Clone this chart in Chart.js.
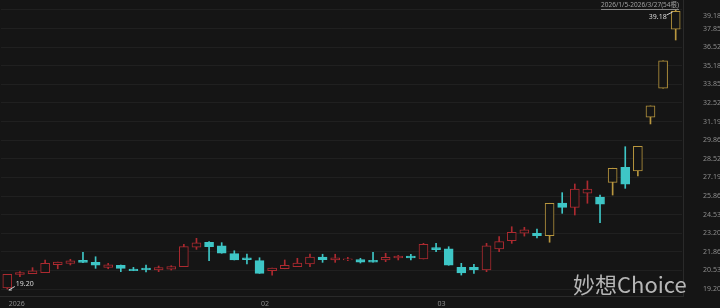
<!DOCTYPE html>
<html>
<head>
<meta charset="utf-8">
<script src="https://cdn.jsdelivr.net/npm/chart.js@4.4.1/dist/chart.umd.min.js"></script>
<style>
  html, body { margin: 0; padding: 0; background: #151515; }
  #wrap { width: 720px; height: 308px; position: relative; }
</style>
</head>
<body>
<div id="wrap"><canvas id="klineCanvas"></canvas></div>
<script>
// 日K 2026/1/5 - 2026/3/27
const dates = [
  '1/5','1/6','1/7','1/8','1/9','1/12','1/13','1/14','1/15','1/16',
  '1/19','1/20','1/21','1/22','1/23','1/26','1/27','1/28','1/29','1/30',
  '2/2','2/3','2/4','2/5','2/6','2/9','2/10','2/11','2/12','2/13',
  '2/24','2/25','2/26','2/27',
  '3/2','3/3','3/4','3/5','3/6','3/9','3/10','3/11','3/12','3/13',
  '3/16','3/17','3/18','3/19','3/20','3/23','3/24','3/25','3/26','3/27'
];
const openPx = [
  19.27, 20.25, 20.30, 20.37, 20.94, 21.04, 21.26, 21.11, 20.75, 20.90,
  20.63, 20.70, 20.56, 20.63, 20.80, 22.19, 22.55, 22.30, 21.73, 21.44,
  21.23, 20.51, 20.65, 20.80, 20.99, 21.49, 21.28, 21.28, 21.30, 21.26,
  21.28, 21.42, 21.56, 21.35, 22.16, 22.07, 20.75, 20.75, 20.56, 22.08,
  22.66, 23.19, 23.19, 23.02, 25.36, 25.05, 26.06, 25.79, 26.84, 27.92,
  27.65, 31.50, 33.58, 37.80
];
const highPx = [
  20.25, 20.44, 20.73, 21.28, 21.13, 21.33, 21.83, 21.51, 21.04, 20.92,
  20.75, 20.92, 20.85, 20.87, 22.40, 22.83, 22.59, 22.52, 21.94, 21.71,
  21.44, 20.70, 21.28, 21.40, 21.71, 21.69, 21.69, 21.47, 21.40, 21.83,
  21.76, 21.61, 21.69, 22.47, 22.47, 22.23, 21.04, 20.97, 22.47, 22.95,
  23.66, 23.62, 23.50, 25.34, 26.10, 26.72, 26.94, 25.93, 27.85, 29.39,
  29.42, 32.31, 35.54, 39.18
];
const lowPx = [
  19.20, 20.08, 20.30, 20.37, 20.65, 20.92, 21.08, 20.68, 20.65, 20.44,
  20.51, 20.42, 20.44, 20.56, 20.80, 22.04, 21.23, 21.76, 21.28, 20.99,
  20.32, 20.20, 20.65, 20.80, 20.80, 21.11, 21.11, 21.23, 21.06, 21.13,
  21.16, 21.28, 21.28, 21.35, 21.87, 20.90, 20.20, 20.32, 20.44, 21.87,
  22.47, 22.99, 22.85, 22.55, 24.62, 24.50, 25.34, 23.95, 25.93, 26.41,
  27.29, 31.02, 33.58, 37.03
];
const closePx = [
  20.25, 20.37, 20.51, 21.04, 21.13, 21.21, 21.11, 20.90, 20.94, 20.68,
  20.51, 20.58, 20.73, 20.80, 22.23, 22.50, 22.23, 21.76, 21.28, 21.30,
  20.32, 20.70, 20.90, 21.06, 21.49, 21.30, 21.44, 21.37, 21.13, 21.13,
  21.47, 21.56, 21.42, 22.40, 22.01, 20.90, 20.35, 20.56, 22.30, 22.59,
  23.26, 23.43, 23.02, 25.34, 25.05, 26.36, 26.36, 25.27, 27.85, 26.70,
  29.42, 32.31, 35.54, 39.09
];
// 涨停日 (金色)
const limitUp = [43, 48, 50, 51, 52, 53];

const yTickLabels = [
  '19.20', '20.53', '21.86', '23.20', '24.53', '25.86', '27.19', '28.52',
  '29.86', '31.19', '32.52', '33.85', '35.18', '36.52', '37.85', '39.18'
];
const monthTickIdx = [0, 20, 34];
const monthTickText = ['2026', '02', '03'];

const BG = '#151515';
const UP = '#ad2a30';
const DOWN = '#3ec6c6';
const GOLD = '#b8963e';

function candleColor(i) {
  if (limitUp.includes(i)) return GOLD;
  return closePx[i] >= openPx[i] ? UP : DOWN;
}

const lineColors = dates.map((d, i) => candleColor(i));
const bodyFill = dates.map((d, i) => closePx[i] >= openPx[i] ? BG : DOWN);

Chart.defaults.font.family = '"Noto Sans", "Noto Sans CJK SC", sans-serif';

const overlay = {
  id: 'overlay',
  afterDatasetsDraw(chart) {
    const { ctx, chartArea, scales } = chart;
    const x = scales.x, y = scales.y;
    ctx.save();

    // frame lines
    ctx.strokeStyle = 'rgba(255,255,255,0.09)';
    ctx.lineWidth = 1;
    ctx.beginPath();
    ctx.moveTo(Math.round(chartArea.right) + 1.5, 0);
    ctx.lineTo(Math.round(chartArea.right) + 1.5, chartArea.bottom);
    ctx.moveTo(0, Math.round(chartArea.bottom) + 0.5);
    ctx.lineTo(chartArea.right + 2, Math.round(chartArea.bottom) + 0.5);
    ctx.stroke();

    // month labels on the x scale
    ctx.font = '7px "Noto Sans"';
    ctx.fillStyle = '#8c8c8c';
    ctx.textAlign = 'left';
    ctx.textBaseline = 'middle';
    monthTickIdx.forEach(function(idx, k) {
      ctx.fillText(monthTickText[k], x.getPixelForValue(idx) + 1.5, chartArea.bottom + 8);
    });

    // top y label (pushed down inside)
    ctx.fillText(yTickLabels[yTickLabels.length - 1], chartArea.right + 21, 16);

    // max / min markers
    const hiIdx = highPx.indexOf(Math.max(...highPx));
    const loIdx = lowPx.indexOf(Math.min(...lowPx));
    const hx = x.getPixelForValue(hiIdx), hy = y.getPixelForValue(highPx[hiIdx]);
    const lx = x.getPixelForValue(loIdx), ly = y.getPixelForValue(lowPx[loIdx]);
    ctx.strokeStyle = '#cfcfcf';
    ctx.beginPath();
    ctx.moveTo(hx - 9, hy + 5);
    ctx.lineTo(hx - 3, hy + 2);
    ctx.moveTo(lx + 1.5, ly + 1);
    ctx.lineTo(lx + 7.5, ly - 2.5);
    ctx.moveTo(lx + 1.5, ly + 1);
    ctx.lineTo(lx + 4.5, ly + 1);
    ctx.stroke();
    ctx.fillStyle = '#d8d8d8';
    ctx.textAlign = 'right';
    ctx.fillText(highPx[hiIdx].toFixed(2), hx - 9, hy + 7);
    ctx.textAlign = 'left';
    ctx.fillText(lowPx[loIdx].toFixed(2), lx + 8.5, ly - 5);

    // range caption
    const cap = '2026/' + dates[0] + '-2026/' + dates[dates.length - 1] + '(' + dates.length + '根)';
    ctx.font = '6.5px "Noto Sans", "Noto Sans CJK SC"';
    ctx.fillStyle = '#a0a0a0';
    ctx.textAlign = 'right';
    ctx.fillText(cap, 679, 5.5);
    const w = ctx.measureText(cap).width;
    ctx.fillRect(679 - w, 9, w, 0.8);

    // watermark
    ctx.font = '22px "Noto Sans CJK SC", "Noto Sans"';
    ctx.fillStyle = 'rgba(200,200,200,0.9)';
    ctx.textAlign = 'left';
    ctx.textBaseline = 'alphabetic';
    ctx.fillText('妙想Choice', 573, 293);
    ctx.restore();
  }
};

new Chart(document.getElementById('klineCanvas'), {
  type: 'bar',
  data: {
    labels: dates,
    datasets: [
      {
        label: 'wick',
        data: dates.map((d, i) => [lowPx[i], highPx[i]]),
        backgroundColor: lineColors,
        borderWidth: 0,
        barThickness: 1,
        grouped: false,
        order: 2
      },
      {
        label: 'body',
        data: dates.map((d, i) => [Math.min(openPx[i], closePx[i]), Math.max(openPx[i], closePx[i])]),
        backgroundColor: bodyFill,
        borderColor: lineColors,
        borderWidth: 1,
        borderSkipped: false,
        barThickness: 9,
        minBarLength: 1,
        grouped: false,
        order: 1
      }
    ]
  },
  options: {
    responsive: true,
    maintainAspectRatio: false,
    animation: false,
    layout: { padding: { left: 1, top: 3, right: 0, bottom: 0 } },
    plugins: {
      legend: { display: false },
      tooltip: { enabled: false }
    },
    scales: {
      x: {
        offset: true,
        grid: { display: false },
        border: { display: false },
        ticks: { display: false },
        afterFit: function(scale) {
          scale.height = 12;
          scale.paddingLeft = 0;
          scale.paddingRight = 0;
        }
      },
      y: {
        position: 'right',
        min: 18.70,
        max: 39.68,
        afterBuildTicks: function(axis) {
          axis.ticks = yTickLabels.map(t => ({ value: parseFloat(t) }));
        },
        afterFit: function(scale) {
          scale.width = 38;
          scale.paddingTop = 0;
          scale.paddingBottom = 0;
        },
        grid: {
          color: 'rgba(255,255,255,0.05)',
          drawTicks: true,
          tickLength: 21,
          tickColor: 'rgba(0,0,0,0)'
        },
        border: { display: false },
        ticks: {
          padding: 0,
          font: { size: 7 },
          color: function(c) {
            return c.index === yTickLabels.length - 1 ? 'rgba(0,0,0,0)' : '#8c8c8c';
          },
          callback: function(v, idx) { return yTickLabels[idx]; }
        }
      }
    }
  },
  plugins: [overlay]
});
</script>
</body>
</html>
